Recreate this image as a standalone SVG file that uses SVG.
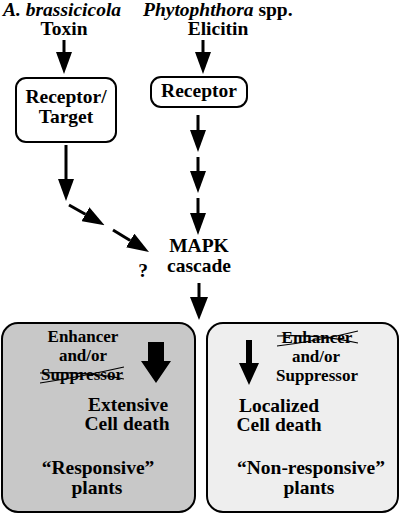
<svg xmlns="http://www.w3.org/2000/svg" width="400" height="515" viewBox="0 0 400 515">
<defs>
<style>
.t{font-size:19.5px}
.s{font-size:17px}
.i{font-style:italic}
.m{text-anchor:middle}
.box{fill:#fff;stroke:#000;stroke-width:2}
.conn{stroke:#000;stroke-width:3;fill:none}
.strike{stroke:#000;stroke-width:1.2;fill:none}
</style>
<marker id="ah" markerUnits="userSpaceOnUse" markerWidth="22" markerHeight="16" refX="0" refY="8" orient="auto" viewBox="0 0 22 16">
<path d="M0,0 L22,8 L0,16 z" fill="#000"/>
</marker>
<marker id="ah2" markerUnits="userSpaceOnUse" markerWidth="23" markerHeight="18" refX="0" refY="9" orient="auto" viewBox="0 0 23 18">
<path d="M0,0 L23,9 L0,18 z" fill="#000"/>
</marker>
</defs>
<rect width="400" height="515" fill="#fff"/>
<g font-family="'Liberation Serif', 'Times New Roman', serif" font-weight="bold" fill="#000">
<g id="toxin">
<text class="t i" x="3" y="16">A. brassicicola</text>
<text class="t m" x="64" y="35">Toxin</text>
</g>
<g id="elicitin">
<text class="t" x="143" y="16"><tspan class="i">Phytophthora</tspan> spp.</text>
<text class="t m" x="218" y="35">Elicitin</text>
</g>
<g id="receptor-target">
<rect class="box" x="16" y="78" width="100" height="64" rx="10"/>
<text class="t m" x="66" y="103">Receptor/</text>
<text class="t m" x="66" y="123">Target</text>
</g>
<g id="receptor">
<rect class="box" x="151" y="77" width="96" height="30" rx="10"/>
<text class="t m" x="199" y="97">Receptor</text>
</g>
<g id="mapk">
<text class="t m" x="199" y="252">MAPK</text>
<text class="t m" x="199" y="272">cascade</text>
</g>
<g id="question">
<text class="t m" x="143" y="277">?</text>
</g>

<g id="connectors">
<line class="conn" x1="64" y1="40" x2="64" y2="52" marker-end="url(#ah)"/>
<line class="conn" x1="203" y1="40" x2="203" y2="52" marker-end="url(#ah)"/>
<line class="conn" x1="66" y1="145" x2="66" y2="179" marker-end="url(#ah)"/>
<line class="conn" x1="69" y1="205" x2="85.4" y2="214.3" marker-end="url(#ah)"/>
<line class="conn" x1="113" y1="230" x2="130.2" y2="240.5" marker-end="url(#ah)"/>
<line class="conn" x1="198" y1="115" x2="198" y2="130" marker-end="url(#ah)"/>
<line class="conn" x1="198" y1="157" x2="198" y2="171" marker-end="url(#ah)"/>
<line class="conn" x1="198" y1="198" x2="198" y2="213" marker-end="url(#ah)"/>
<line class="conn" x1="199" y1="283" x2="199" y2="297" marker-end="url(#ah2)"/>
</g>

<g id="responsive">
<rect x="2" y="323" width="193" height="189" rx="16" fill="#c8c8c8" stroke="#000" stroke-width="2"/>
<text class="s m" x="83" y="342">Enhancer</text>
<text class="s m" x="83" y="361">and/or</text>
<text class="s m" x="82" y="380">Suppressor</text>
<path class="strike" d="M40,383 Q80,377 124,367"/>
<path class="strike" d="M40,373 Q85,371 124,379"/>
<polygon points="148,342 164,342 164,361 171,361 156,383 141,361 148,361" fill="#000"/>
<text class="t m" x="128" y="411">Extensive</text>
<text class="t m" x="127" y="430">Cell death</text>
<text class="t m" x="98" y="474">“Responsive”</text>
<text class="t m" x="97" y="494">plants</text>
</g>

<g id="non-responsive">
<rect x="207" y="323" width="191" height="189" rx="16" fill="#eeeeee" stroke="#000" stroke-width="2"/>
<text class="s m" x="317" y="343">Enhancer</text>
<path class="strike" d="M277,346 Q318,341 358,331"/>
<path class="strike" d="M277,336 Q320,334 358,343"/>
<text class="s m" x="316" y="362">and/or</text>
<text class="s m" x="317" y="381">Suppressor</text>
<polygon points="246,340 252,340 252,363 259,363 249,385 239,363 246,363" fill="#000"/>
<text class="t m" x="279" y="412">Localized</text>
<text class="t m" x="279" y="431">Cell death</text>
<text class="t m" x="311" y="474">“Non-responsive”</text>
<text class="t m" x="309" y="494">plants</text>
</g>
</g>
</svg>
